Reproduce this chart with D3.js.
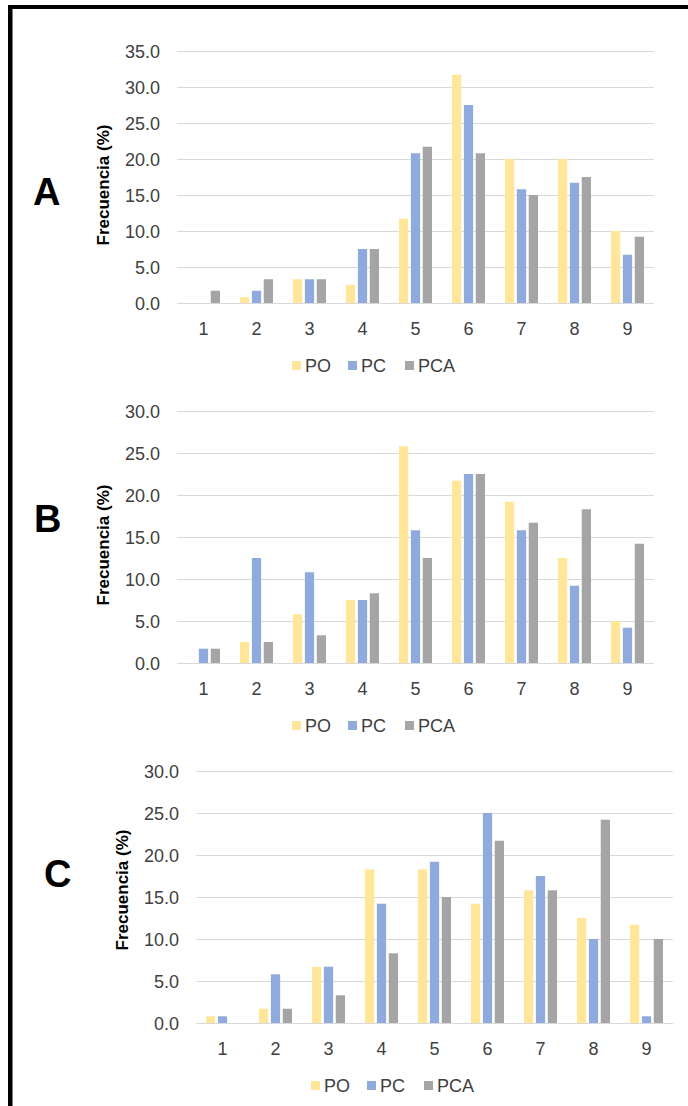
<!DOCTYPE html>
<html lang="es">
  <head>
    <meta charset="UTF-8" />
    <style>
      body { margin: 0; background: #fff; }
      svg { font-family: "Liberation Sans", Arial, sans-serif; }
      .grid line { stroke: #d9d9d9; stroke-width: 1.4; shape-rendering: crispEdges; }
      .tick-label { fill: #404040; font-size: 18px; }
      .legend text { fill: #404040; font-size: 18px; }
      .axis-title { font-weight: bold; font-size: 17px; fill: #000; }
      .panel-letter { font-weight: bold; font-size: 38px; fill: #000; }
    </style>
    <script src="https://d3js.org/d3.v7.min.js"></script>
    <title>Frecuencia</title>
  </head>
  <body>
    <script>
      // categories and series
      var categories = ["1", "2", "3", "4", "5", "6", "7", "8", "9"];
      var seriesNames = ["PO", "PC", "PCA"];
      var seriesColors = ["#ffe699", "#8faadc", "#a5a5a5"];

      // panel A values (%)
      var poA = [0, 0.8, 3.3, 2.5, 11.7, 31.7, 20.0, 20.0, 10.0];
      var pcA = [0, 1.7, 3.3, 7.5, 20.8, 27.5, 15.8, 16.7, 6.7];
      var pcaA = [1.7, 3.3, 3.3, 7.5, 21.7, 20.8, 15.0, 17.5, 9.2];

      // panel B values (%)
      var poB = [0, 2.5, 5.8, 7.5, 25.8, 21.7, 19.2, 12.5, 5.0];
      var pcB = [1.7, 12.5, 10.8, 7.5, 15.8, 22.5, 15.8, 9.2, 4.2];
      var pcaB = [1.7, 2.5, 3.3, 8.3, 12.5, 22.5, 16.7, 18.3, 14.2];

      // panel C values (%)
      var poC = [0.8, 1.7, 6.7, 18.3, 18.3, 14.2, 15.8, 12.5, 11.7];
      var pcC = [0.8, 5.8, 6.7, 14.2, 19.2, 25.0, 17.5, 10.0, 0.8];
      var pcaC = [0, 1.7, 3.3, 8.3, 15.0, 21.7, 15.8, 24.2, 10.0];

      // y axis maxima / tick step
      var yMaxA = 35, yMaxB = 30, yMaxC = 30, yStep = 5;

      var W = 688, H = 1106;
      var svg = d3.select("body").append("svg")
        .attr("width", W).attr("height", H);

      // frame (left + top edges)
      svg.append("rect").attr("x", 8).attr("y", 5).attr("width", 4.5).attr("height", H - 5).attr("fill", "#000");
      svg.append("rect").attr("x", 8).attr("y", 5).attr("width", W - 8).attr("height", 4).attr("fill", "#000");

      function drawPanel(p) {
        var g = svg.append("g");
        var x = d3.scaleBand().domain(categories).range([p.x0, p.x1]).paddingInner(0.377).paddingOuter(0.1885);
        var xs = d3.scaleBand().domain(seriesNames).range([0, x.bandwidth()]).paddingInner(0.22);
        var y = d3.scaleLinear().domain([0, p.yMax]).range([p.yBase, p.yTop]);
        var ticks = d3.range(0, p.yMax + 0.001, yStep);

        // gridlines
        g.append("g").attr("class", "grid")
          .selectAll("line").data(ticks).enter().append("line")
          .attr("x1", p.x0).attr("x2", p.x1)
          .attr("y1", function (d) { return Math.round(y(d)) + 0.5; })
          .attr("y2", function (d) { return Math.round(y(d)) + 0.5; });

        // y tick labels
        g.selectAll(".ylab").data(ticks).enter().append("text")
          .attr("class", "tick-label")
          .attr("x", p.x0 - 17)
          .attr("y", function (d) { return y(d) + 6.5; })
          .attr("text-anchor", "end")
          .text(d3.format(".1f"));

        // x tick labels
        g.selectAll(".xlab").data(categories).enter().append("text")
          .attr("class", "tick-label")
          .attr("x", function (d) { return x(d) + x.bandwidth() / 2; })
          .attr("y", p.yBase + 32)
          .attr("text-anchor", "middle")
          .text(function (d) { return d; });

        // bars
        var rows = [];
        categories.forEach(function (c, i) {
          p.series.forEach(function (s, j) {
            rows.push({ cat: c, name: seriesNames[j], v: s[i], color: seriesColors[j] });
          });
        });
        g.selectAll(".bar").data(rows).enter().append("rect")
          .attr("x", function (d) { return x(d.cat) + xs(d.name); })
          .attr("y", function (d) { return y(d.v); })
          .attr("width", xs.bandwidth())
          .attr("height", function (d) { return y(0) - y(d.v); })
          .attr("fill", function (d) { return d.color; });

        // axis title
        g.append("text")
          .attr("class", "axis-title")
          .attr("transform", "translate(" + p.titleX + "," + p.titleY + ") rotate(-90)")
          .attr("text-anchor", "middle")
          .text("Frecuencia (%)");

        // panel letter
        g.append("text")
          .attr("class", "panel-letter")
          .attr("x", p.letterX).attr("y", p.letterY)
          .text(p.letter);

        // legend
        var legendOffsets = [115, 171, 228];
        var lg = g.append("g").attr("class", "legend");
        seriesNames.forEach(function (name, j) {
          var lx = p.x0 + legendOffsets[j];
          lg.append("rect").attr("x", lx).attr("y", p.yBase + 58)
            .attr("width", 9).attr("height", 9).attr("fill", seriesColors[j]);
          lg.append("text").attr("x", lx + 13).attr("y", p.yBase + 69).text(name);
        });
      }

      drawPanel({ letter: "A", series: [poA, pcA, pcaA], yMax: yMaxA,
        x0: 177, x1: 654, yTop: 51, yBase: 303,
        titleX: 109, titleY: 185, letterX: 33, letterY: 205 });
      drawPanel({ letter: "B", series: [poB, pcB, pcaB], yMax: yMaxB,
        x0: 177, x1: 654, yTop: 411, yBase: 663,
        titleX: 109, titleY: 545, letterX: 34, letterY: 532 });
      drawPanel({ letter: "C", series: [poC, pcC, pcaC], yMax: yMaxC,
        x0: 196, x1: 673, yTop: 771, yBase: 1023,
        titleX: 128, titleY: 890, letterX: 44, letterY: 887 });
    </script>
  </body>
</html>
